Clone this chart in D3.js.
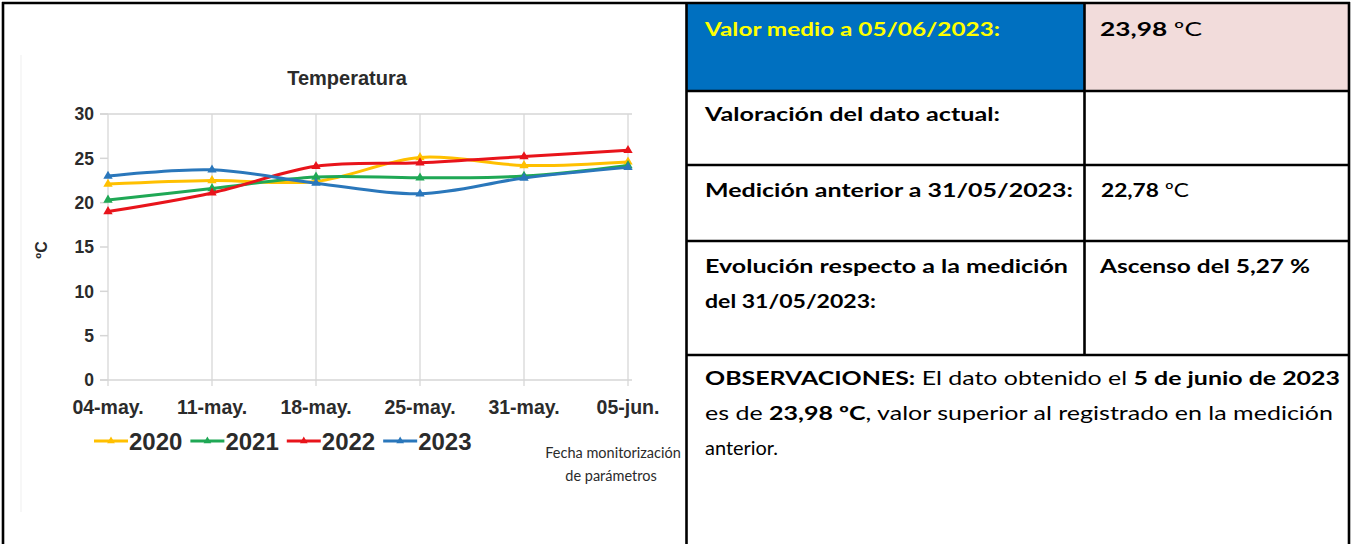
<!DOCTYPE html>
<html>
<head>
<meta charset="utf-8">
<script src="https://cdn.jsdelivr.net/npm/d3@7"></script>
<style>
  body { margin: 0; background: #fff; }
  svg { display: block; }
  .chart text { font-family: "Liberation Sans", Arial, sans-serif; font-weight: bold; fill: #2b2b2b; }
  .sheet text { font-family: Lato, "Open Sans", sans-serif; font-size: 19px; fill: #000; }
</style>
</head>
<body>
<div id="page"></div>
<script>
// chart data
const dates = ['04-may.', '11-may.', '18-may.', '25-may.', '31-may.', '05-jun.'];
const years = ['2020', '2021', '2022', '2023'];
const t2020 = [22.1, 22.5, 22.4, 25.1, 24.2, 24.6];
const t2021 = [20.3, 21.6, 22.9, 22.8, 23.0, 24.2];
const t2022 = [19.0, 21.1, 24.1, 24.5, 25.2, 25.9];
const t2023 = [23.0, 23.7, 22.2, 21.0, 22.78, 23.98];
const yTicks = [0, 5, 10, 15, 20, 25, 30];
const colours = ['#FFC000', '#1FA855', '#E8141B', '#2A77BB'];

const series = years.map((yr, i) => ({
  year: yr,
  colour: colours[i],
  values: [t2020, t2021, t2022, t2023][i].map((v, j) => ({ date: dates[j], v })),
}));

const width = 1353;
const height = 544;

const svg = d3.select('#page').append('svg')
  .attr('width', width)
  .attr('height', height);

// ---------- chart ----------
const chart = svg.append('g').attr('class', 'chart');

const x = d3.scalePoint().domain(dates).range([108, 628]);
const y = d3.scaleLinear().domain([0, 30]).range([380, 114]);

// faint edge of the pasted chart picture
chart.append('line')
  .attr('x1', 21).attr('x2', 21)
  .attr('y1', 55).attr('y2', 512)
  .attr('stroke', '#f4f4f4')
  .attr('stroke-width', 1.5);

// vertical grid at each date
chart.selectAll('.vgrid')
  .data(dates)
  .enter()
  .append('line')
  .attr('class', 'vgrid')
  .attr('x1', (d) => x(d))
  .attr('x2', (d) => x(d))
  .attr('y1', y(30))
  .attr('y2', y(0) + 6)
  .attr('stroke', '#dcdcdc')
  .attr('stroke-width', 1.5);

// top and bottom frame lines
chart.selectAll('.hline')
  .data([0, 30])
  .enter()
  .append('line')
  .attr('class', 'hline')
  .attr('x1', x.range()[0] - 8)
  .attr('x2', x.range()[1] + 4)
  .attr('y1', (d) => y(d))
  .attr('y2', (d) => y(d))
  .attr('stroke', '#d6d6d6')
  .attr('stroke-width', 1.5);

// left ticks
chart.selectAll('.ytick')
  .data(yTicks)
  .enter()
  .append('line')
  .attr('x1', x.range()[0] - 8)
  .attr('x2', x.range()[0])
  .attr('y1', (d) => y(d))
  .attr('y2', (d) => y(d))
  .attr('stroke', '#d6d6d6')
  .attr('stroke-width', 1.5);

chart.selectAll('.ylabel')
  .data(yTicks)
  .enter()
  .append('text')
  .attr('x', 94)
  .attr('y', (d) => y(d))
  .attr('dy', '0.36em')
  .attr('text-anchor', 'end')
  .attr('font-size', 17.5)
  .text((d) => d);

chart.selectAll('.xlabel')
  .data(dates)
  .enter()
  .append('text')
  .attr('x', (d) => x(d))
  .attr('y', 414)
  .attr('text-anchor', 'middle')
  .attr('font-size', 19.5)
  .text((d) => d);

chart.append('text')
  .attr('transform', 'translate(47, 250) rotate(-90)')
  .attr('text-anchor', 'middle')
  .attr('font-size', 16)
  .text('ºC');

chart.append('text')
  .attr('x', 347)
  .attr('y', 85)
  .attr('text-anchor', 'middle')
  .attr('font-size', 20)
  .text('Temperatura');

// lines
const line = d3.line()
  .x((d) => x(d.date))
  .y((d) => y(d.v))
  .curve(d3.curveCatmullRom);

const marker = d3.symbol().type(d3.symbolTriangle).size(38);

const groups = chart.selectAll('.series')
  .data(series)
  .enter()
  .append('g')
  .attr('class', 'series');

groups.append('path')
  .attr('d', (d) => line(d.values))
  .attr('fill', 'none')
  .attr('stroke', (d) => d.colour)
  .attr('stroke-width', 3);

groups.selectAll('.pt')
  .data((d) => d.values.map((p) => ({ ...p, colour: d.colour })))
  .enter()
  .append('path')
  .attr('class', 'pt')
  .attr('d', marker)
  .attr('fill', (d) => d.colour)
  .attr('transform', (d) => `translate(${x(d.date)},${y(d.v)})`);

// legend
const legend = chart.append('g').attr('transform', 'translate(94, 441)');
let lx = 0;
series.forEach((s) => {
  const item = legend.append('g').attr('transform', `translate(${lx},0)`);
  item.append('line')
    .attr('x1', 0).attr('x2', 34)
    .attr('y1', 0).attr('y2', 0)
    .attr('stroke', s.colour)
    .attr('stroke-width', 3);
  item.append('path')
    .attr('d', d3.symbol().type(d3.symbolTriangle).size(26))
    .attr('fill', s.colour)
    .attr('transform', 'translate(17,0)');
  const t = item.append('text')
    .attr('x', 35)
    .attr('dy', '0.36em')
    .attr('font-size', 24)
    .text(s.year);
  lx += 35 + t.node().getComputedTextLength() + 8;
});

const axisNote = chart.append('text')
  .attr('text-anchor', 'middle')
  .attr('font-size', 14.5)
  .style('font-family', 'Lato, "Open Sans", sans-serif')
  .style('font-weight', 'normal');
axisNote.append('tspan').attr('x', 613).attr('y', 458).text('Fecha monitorización');
axisNote.append('tspan').attr('x', 611).attr('y', 481).text('de parámetros');

// ---------- table ----------
const sheet = svg.append('g').attr('class', 'sheet');

sheet.append('rect')
  .attr('x', 687).attr('y', 3)
  .attr('width', 397).attr('height', 88)
  .attr('fill', '#0070C0');
sheet.append('rect')
  .attr('x', 1085).attr('y', 3)
  .attr('width', 264).attr('height', 88)
  .attr('fill', '#F2DCDB');

const rowTops = [91, 165, 241, 355];
const bw = 2.6;

const borders = [
  [2, 3, 1350, 3],
  [3, 2, 3, 544],
  [1349, 2, 1349, 544],
  [686.5, 2, 686.5, 544],
  [1084.5, 3, 1084.5, 355],
  ...rowTops.map((ry) => [686, ry, 1350, ry]),
];
sheet.selectAll('.border')
  .data(borders)
  .enter()
  .append('line')
  .attr('x1', (d) => d[0]).attr('y1', (d) => d[1])
  .attr('x2', (d) => d[2]).attr('y2', (d) => d[3])
  .attr('stroke', '#000')
  .attr('stroke-width', bw);

// text cells: [x, y, width, parts] where parts are [text, bold]
const cells = [
  [705, 36, 295, [['Valor medio a 05/06/2023:', true]], '#FFFF00'],
  [1100, 36, 102, [['23,98', true], [' ºC', false]]],
  [705, 121, 295, [['Valoración del dato actual:', true]]],
  [705, 197, 368, [['Medición anterior a 31/05/2023:', true]]],
  [1101, 197, 88, [['22,78', true], [' ºC', false]]],
  [705, 273, 363, [['Evolución respecto a la medición', true]]],
  [705, 308, 171, [['del 31/05/2023:', true]]],
  [1100, 273, 210, [['Ascenso del 5,27 %', true]]],
  [705, 385, 635, [['OBSERVACIONES:', true], [' El dato obtenido el ', false], ['5 de junio de 2023', true]]],
  [705, 420, 628, [['es de ', false], ['23,98 ºC', true], [', valor superior al registrado en la medición', false]]],
  [705, 455, 73, [['anterior.', false]]],
];

cells.forEach(([cx, cy, w, parts, colour]) => {
  const t = sheet.append('text')
    .attr('x', cx)
    .attr('y', cy)
    .attr('textLength', w)
    .attr('lengthAdjust', 'spacingAndGlyphs')
    .style('fill', colour || '#000');
  parts.forEach(([str, bold]) => {
    t.append('tspan')
      .attr('font-weight', bold ? 'bold' : 'normal')
      .text(str);
  });
});
</script>
</body>
</html>
